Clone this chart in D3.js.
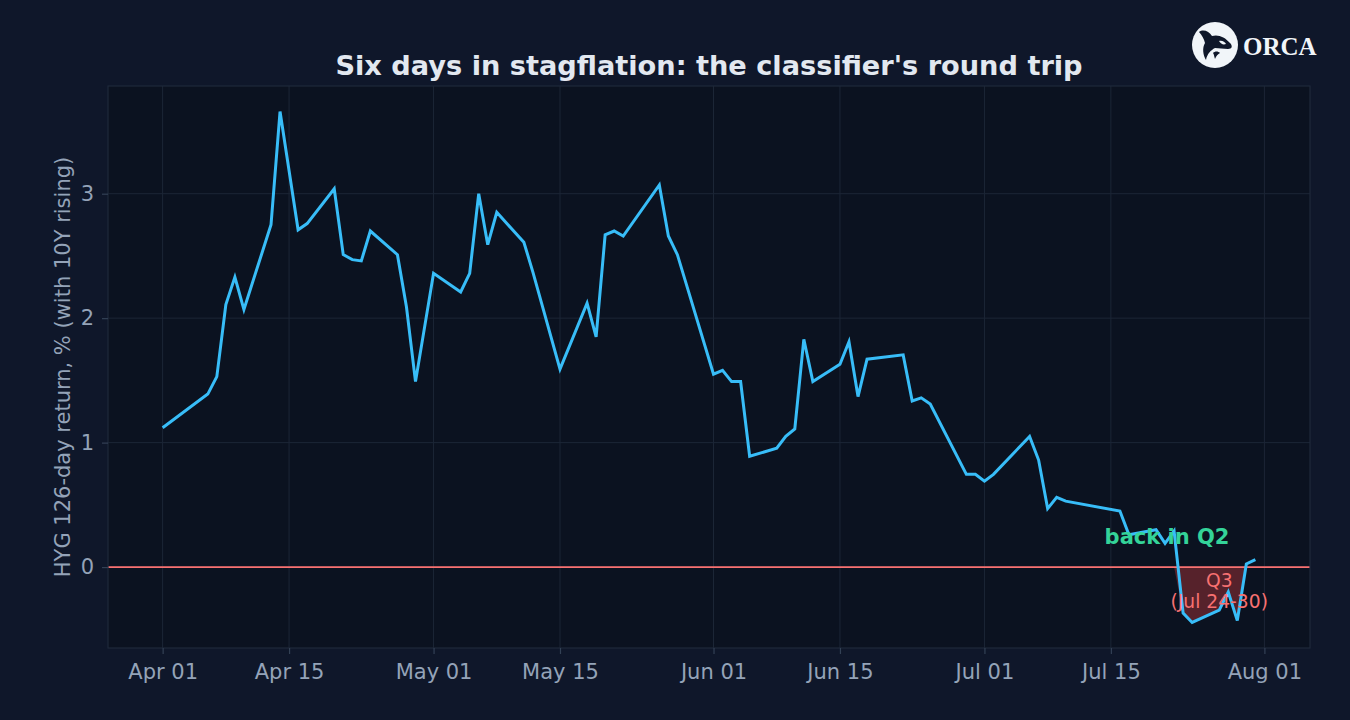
<!DOCTYPE html>
<html><head><meta charset="utf-8">
<script src="https://cdn.jsdelivr.net/npm/d3@7"></script>
<style>
html,body{margin:0;padding:0;background:#0f172a;}
svg{display:block;}
</style></head>
<body>
<svg id="c" width="1350" height="720"></svg>
<script>
const dates = ["2026-04-01","2026-04-06","2026-04-07","2026-04-08","2026-04-09","2026-04-10","2026-04-13","2026-04-14","2026-04-16","2026-04-17","2026-04-20","2026-04-21","2026-04-22","2026-04-23","2026-04-24","2026-04-27","2026-04-28","2026-04-29","2026-05-01","2026-05-04","2026-05-05","2026-05-06","2026-05-07","2026-05-08","2026-05-11","2026-05-12","2026-05-15","2026-05-18","2026-05-19","2026-05-20","2026-05-21","2026-05-22","2026-05-26","2026-05-27","2026-05-28","2026-06-01","2026-06-02","2026-06-03","2026-06-04","2026-06-05","2026-06-08","2026-06-09","2026-06-10","2026-06-11","2026-06-12","2026-06-15","2026-06-16","2026-06-17","2026-06-18","2026-06-22","2026-06-23","2026-06-24","2026-06-25","2026-06-29","2026-06-30","2026-07-01","2026-07-02","2026-07-06","2026-07-07","2026-07-08","2026-07-09","2026-07-10","2026-07-16","2026-07-17","2026-07-20","2026-07-21","2026-07-22","2026-07-23","2026-07-24","2026-07-27","2026-07-28","2026-07-29","2026-07-30","2026-07-31"];
const returns = [1.12,1.39,1.53,2.11,2.33,2.07,2.75,3.66,2.71,2.76,3.04,2.51,2.47,2.46,2.70,2.51,2.09,1.49,2.36,2.21,2.36,3.00,2.59,2.85,2.61,2.37,1.59,2.12,1.85,2.67,2.70,2.66,3.07,2.66,2.51,1.55,1.58,1.49,1.49,0.89,0.955,1.05,1.11,1.83,1.49,1.63,1.81,1.37,1.67,1.705,1.335,1.36,1.31,0.745,0.745,0.69,0.745,1.05,0.86,0.47,0.56,0.53,0.45,0.26,0.30,0.19,0.29,-0.37,-0.445,-0.346,-0.20,-0.43,0.025,0.06];
const xTickDates = ["2026-04-01","2026-04-15","2026-05-01","2026-05-15","2026-06-01","2026-06-15","2026-07-01","2026-07-15","2026-08-01"];
const yTicks = [0,1,2,3];
const shadeStart = "2026-07-22", shadeEnd = "2026-07-30";
const titleText = "Six days in stagflation: the classifier's round trip";
const yLabelText = "HYG 126-day return, % (with 10Y rising)";

const parse = d3.utcParse("%Y-%m-%d");
const data = dates.map((d,i)=>({date:parse(d), v:returns[i]}));

const svg = d3.select("#c");
const W=1350,H=720;
const m={left:108,right:1310,top:86,bottom:648};

svg.append("rect").attr("width",W).attr("height",H).attr("fill","#0f172a");

const ext = d3.extent(data,d=>d.date);
const span = ext[1]-ext[0];
const x = d3.scaleUtc().domain([new Date(+ext[0]-span*0.05), new Date(+ext[1]+span*0.05)]).range([m.left,m.right]);
const vext = d3.extent(data,d=>d.v);
const vs = vext[1]-vext[0];
const y = d3.scaleLinear().domain([vext[0]-vs*0.05, vext[1]+vs*0.05]).range([m.bottom,m.top]);

// plot background
svg.append("rect").attr("x",m.left).attr("y",m.top).attr("width",m.right-m.left).attr("height",m.bottom-m.top)
  .attr("fill","#0b1220");

// grid
const g = svg.append("g");
g.selectAll(".vg").data(xTickDates.map(parse)).join("line")
  .attr("x1",d=>x(d)).attr("x2",d=>x(d)).attr("y1",m.top).attr("y2",m.bottom)
  .attr("stroke","#1c2636").attr("stroke-width",1);
g.selectAll(".hg").data(yTicks).join("line")
  .attr("x1",m.left).attr("x2",m.right).attr("y1",d=>y(d)).attr("y2",d=>y(d))
  .attr("stroke","#1c2636").attr("stroke-width",1);

// shaded Q3 area
const shadeData = data.filter(d=>d.date>=parse(shadeStart) && d.date<=parse(shadeEnd));
const area = d3.area().x(d=>x(d.date)).y0(y(0)).y1(d=>y(Math.min(d.v,0)));
svg.append("path").datum(shadeData).attr("d",area).attr("fill","#ef4444").attr("fill-opacity",0.33);

// zero line
svg.append("line").attr("x1",m.left).attr("x2",m.right).attr("y1",y(0)).attr("y2",y(0))
  .attr("stroke","#f87171").attr("stroke-width",1.8);

// main line
const line = d3.line().x(d=>x(d.date)).y(d=>y(d.v));
svg.append("path").datum(data).attr("d",line).attr("fill","none")
  .attr("stroke","#38bdf8").attr("stroke-width",3).attr("stroke-linejoin","miter");

// frame
svg.append("rect").attr("x",m.left).attr("y",m.top).attr("width",m.right-m.left).attr("height",m.bottom-m.top)
  .attr("fill","none").attr("stroke","#1e293b").attr("stroke-width",1.2);

// axes
const xAxis = d3.axisBottom(x).tickValues(xTickDates.map(parse)).tickFormat(d3.utcFormat("%b %d")).tickSize(6).tickPadding(10);
const ax = svg.append("g").attr("transform",`translate(0,${m.bottom})`).call(xAxis);
ax.select(".domain").remove();
ax.selectAll(".tick line").attr("stroke","#334155").attr("stroke-width",1.2);
ax.selectAll(".tick text").attr("fill","#94a3b8").attr("font-family","DejaVu Sans").attr("font-size","21px");

const yAxis = d3.axisLeft(y).tickValues(yTicks).tickFormat(d3.format("d")).tickSize(6).tickPadding(8);
const ay = svg.append("g").attr("transform",`translate(${m.left},0)`).call(yAxis);
ay.select(".domain").remove();
ay.selectAll(".tick line").attr("stroke","#334155").attr("stroke-width",1.2);
ay.selectAll(".tick text").attr("fill","#94a3b8").attr("font-family","DejaVu Sans").attr("font-size","21px");

// y label
svg.append("text").attr("transform",`translate(70,${(m.top+m.bottom)/2}) rotate(-90)`)
  .attr("text-anchor","middle").attr("fill","#94a3b8").attr("font-family","DejaVu Sans").attr("font-size","21px")
  .text(yLabelText);

// title
svg.append("text").attr("x",(m.left+m.right)/2).attr("y",75).attr("text-anchor","middle")
  .attr("fill","#e2e8f0").attr("font-family","DejaVu Sans").attr("font-weight","bold").attr("font-size","27.2px")
  .text(titleText);

// annotations
svg.append("text").attr("x",x(parse("2026-07-20"))+11).attr("y",544).attr("text-anchor","middle")
  .attr("fill","#34d399").attr("font-family","DejaVu Sans").attr("font-weight","bold").attr("font-size","21px")
  .text("back in Q2");
const q3 = svg.append("text").attr("text-anchor","middle").attr("fill","#f87171")
  .attr("font-family","DejaVu Sans").attr("font-size","18.7px");
q3.append("tspan").attr("x",x(parse("2026-07-27"))).attr("y",587).text("Q3");
q3.append("tspan").attr("x",x(parse("2026-07-27"))).attr("y",608).text("(Jul 24-30)");

// logo
const logo = svg.append("g").attr("transform","translate(1215,45)");
logo.append("circle").attr("r",23).attr("fill","#f1f5f9");
logo.append("path").attr("fill","#0f172a")
  .attr("d","M-16,-13 C-12,-16 -6,-14 -3,-9 C3,-11 10,-8 15,-2 C18,1 17,4 13,4 C8,4 4,3 0,3 C-4,5 -8,9 -9,15 C-12,10 -13,3 -10,-2 C-11,-6 -13,-10 -16,-13 Z");
logo.append("path").attr("fill","#f1f5f9")
  .attr("d","M4,-4 C7,-5 10,-3 11,-1 C8,0 6,-1 4,-4 Z");
logo.append("path").attr("fill","#0f172a")
  .attr("d","M-2,8 C0,6 3,6 5,8 C3,9 1,11 0,14 C-1,11 -1,9 -2,8 Z");
svg.append("text").attr("x",1243).attr("y",55).attr("fill","#f1f5f9")
  .attr("font-family","Liberation Serif").attr("font-weight","bold").attr("font-size","25px").text("ORCA");
</script>
</body></html>
